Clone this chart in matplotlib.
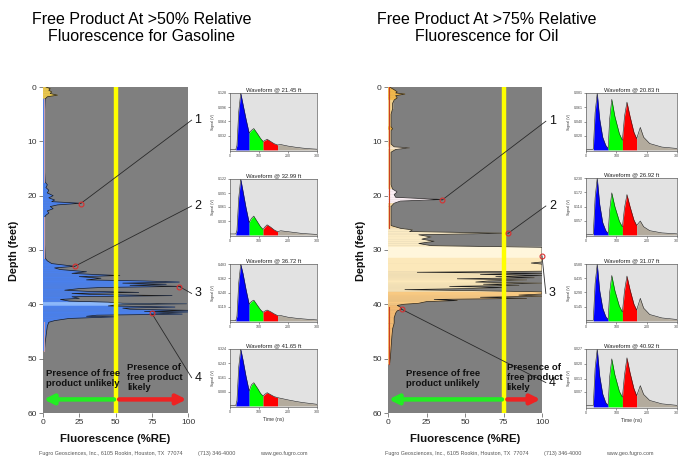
import numpy as np
import matplotlib
matplotlib.use('Agg')
import matplotlib.pyplot as plt

plt.rcParams['font.family'] = ['Liberation Sans', 'DejaVu Sans']

# ---------------- data ----------------
GAS_DEPTH = [0.0, 0.3, 0.6, 0.9, 1.2, 1.5, 1.8, 2.2, 5, 10, 15, 17.5, 18.0, 18.5, 19.0, 19.5,
             20.0, 20.4, 20.8, 21.1, 21.4, 21.7, 22.0, 22.4, 22.8, 23.2, 23.6, 24.0, 28, 31.5,
             32.0, 32.5, 33.0, 33.3, 33.6, 34.0, 34.3, 34.5, 34.7, 34.9, 35.2, 35.5, 35.7, 35.9,
             36.1, 36.3, 36.5, 36.7, 36.9, 37.1, 37.4, 37.6, 37.8, 38.0, 38.2, 38.4, 38.6, 38.9,
             39.1, 39.4, 39.6, 39.8, 39.9, 40.1, 40.3, 40.5, 40.7, 40.9, 41.1, 41.3, 41.4, 41.6,
             41.8, 42.0, 42.2, 42.3, 42.6, 43.0, 43.3, 44, 45, 46, 47, 48.5]
GAS_RE = [2, 5, 4, 6, 5, 10, 3, 1.5, 1, 1, 1, 1.5, 3, 2, 4, 3,
          7, 4, 8, 6, 26, 10, 5, 7, 3, 4, 2, 1, 1, 1.5,
          3, 6, 22, 8, 12, 30, 20, 35, 53, 25, 40, 30, 70, 94,
          55, 85, 60, 95, 40, 25, 15, 30, 66, 20, 35, 89, 20, 25,
          12, 18, 45, 55, 99, 50, 45, 91, 55, 60, 100, 70, 100, 76,
          96, 37, 30, 50, 18, 8, 4, 3, 2.5, 2, 1.5, 1]
GAS_BANDS = [(0.0, 2.2, '#e9c64c'), (2.2, 39.6, '#4a80ec'), (39.6, 40.3, '#8dbbff'),
             (40.3, 48.5, '#4a80ec')]

OIL_DEPTH = [0.0, 0.5, 0.9, 1.1, 1.3, 1.6, 2.0, 2.4, 3.0, 4.0, 5.0, 7.3, 7.7, 8.0, 10.5, 11.0,
             11.2, 11.5, 12.0, 18.0, 18.8, 19.3, 19.8, 20.3, 20.7, 21.0, 21.4, 22.0, 25.5, 26.0,
             26.3, 26.6, 26.9, 27.2, 27.6, 28.0, 28.4, 28.8, 29.2, 29.5, 30.5, 31.5, 32.2, 32.4,
             32.6, 33.5, 33.9, 34.1, 34.3, 34.5, 34.7, 34.9, 35.1, 35.3, 35.5, 35.7, 35.9, 36.1,
             36.3, 36.5, 36.7, 36.9, 37.1, 37.3, 37.5, 37.7, 38.1, 38.3, 38.5, 38.7, 38.9, 39.1,
             39.3, 39.5, 39.8, 40.0, 40.2, 40.5, 40.9, 41.2, 41.6, 42.5, 43.5, 44.5, 46.0, 48.0,
             50.0, 51.0]
OIL_RE = [1, 4, 6, 5, 11, 5, 6, 4, 3, 3, 2, 2, 3, 2, 2, 4,
          14, 5, 2, 2, 3, 6, 4, 5, 35, 8, 4, 2, 2, 8,
          16, 14, 78, 20, 28, 22, 30, 20, 28, 100, 100, 100, 100, 93,
          100, 100, 100, 19, 100, 60, 100, 70, 95, 45, 90, 65, 57, 100,
          62, 85, 40, 75, 50, 11, 60, 100, 100, 85, 100, 60, 90, 30,
          45, 25, 20, 10, 6, 8, 9, 6, 5, 4, 4, 3, 2.5, 2,
          1.5, 1]
OIL_BANDS = [(0.0, 2.4, '#f1b84a'), (2.4, 7.3, '#f3d28c'), (7.3, 8.0, '#efb444'),
             (8.0, 11.0, '#f3d8a4'), (11.0, 11.5, '#fbe8cc'), (11.5, 18.8, '#f3d8a4'),
             (18.8, 21.4, '#fbeef3'), (21.4, 26.0, '#f3d8a4'), (26.0, 29.5, '#fbebc4'),
             (29.5, 31.5, '#fff6dc'), (31.5, 37.7, '#fce8ba'), (37.7, 40.2, '#f8c982'),
             (40.2, 51.0, '#f3bb72')]

GAS_THRESHOLD = 50
OIL_THRESHOLD = 75

# callouts: (depth of point, %RE of point, depth at label, label)
GAS_CALLOUTS = [(21.45, 26, 6.1, '1'), (32.99, 22, 21.9, '2'),
                (36.72, 94, 38.0, '3'), (41.65, 75, 53.5, '4')]
OIL_CALLOUTS = [(20.83, 35, 6.3, '1'), (26.92, 78, 21.9, '2'),
                (31.07, 100, 38.0, '3'), (40.92, 9, 54.4, '4')]

# waveforms
T_GAS = [0, 20, 24, 30, 37, 45, 55, 66, 74, 82, 95, 105, 114, 120, 128, 140, 152, 164,
         175, 200, 225, 250, 275, 300]
WAVE_GAS = [
    [0.001, 0.001, 0.01, 0.085, 0.128, 0.102, 0.070, 0.038, 0.044, 0.048, 0.036, 0.026, 0.019,
     0.021, 0.024, 0.019, 0.014, 0.011, 0.012, 0.0085, 0.006, 0.004, 0.0025, 0.0015],
    [0.002, 0.002, 0.01, 0.08, 0.122, 0.095, 0.060, 0.027, 0.036, 0.041, 0.028, 0.018, 0.012,
     0.017, 0.022, 0.017, 0.011, 0.007, 0.009, 0.007, 0.005, 0.003, 0.002, 0.001],
    [0.002, 0.003, 0.04, 0.32, 0.483, 0.40, 0.27, 0.142, 0.165, 0.176, 0.13, 0.095, 0.073,
     0.083, 0.092, 0.078, 0.06, 0.045, 0.045, 0.031, 0.023, 0.017, 0.012, 0.008],
    [0.003, 0.003, 0.03, 0.22, 0.324, 0.26, 0.17, 0.085, 0.12, 0.132, 0.10, 0.072, 0.056,
     0.066, 0.075, 0.064, 0.053, 0.047, 0.043, 0.034, 0.026, 0.019, 0.014, 0.009],
]
GAS_WAVE_DEPTHS = ['21.45', '32.99', '36.72', '41.65']
GAS_YTICKS = [[0.032, 0.064, 0.096, 0.128], [0.030, 0.061, 0.091, 0.122],
              [0.119, 0.240, 0.362, 0.483], [0.080, 0.161, 0.243, 0.324]]
GAS_SEG = [20, 66, 114, 164, 300]

T_OIL = [0, 24, 30, 37, 45, 55, 65, 73, 78, 85, 95, 110, 120, 127, 135, 145, 158, 167,
         179, 190, 210, 250, 300]
WAVE_OIL = [
    [0, 0.001, 0.053, 0.081, 0.044, 0.018, 0.0065, 0.002, 0.044, 0.072, 0.048, 0.023, 0.0135,
     0.048, 0.068, 0.048, 0.025, 0.016, 0.032, 0.018, 0.009, 0.004, 0.002],
    [0, 0.002, 0.15, 0.230, 0.124, 0.05, 0.018, 0.006, 0.10, 0.170, 0.115, 0.055, 0.032,
     0.11, 0.163, 0.115, 0.06, 0.038, 0.056, 0.033, 0.017, 0.008, 0.004],
    [0, 0.005, 0.38, 0.580, 0.31, 0.13, 0.045, 0.015, 0.29, 0.463, 0.31, 0.15, 0.09,
     0.31, 0.457, 0.32, 0.17, 0.11, 0.23, 0.13, 0.065, 0.03, 0.014],
    [0.0005, 0.0006, 0.018, 0.027, 0.0145, 0.006, 0.002, 0.0008, 0.014, 0.0224, 0.015, 0.0072,
     0.0045, 0.015, 0.0229, 0.016, 0.0085, 0.0052, 0.0099, 0.0058, 0.003, 0.0014, 0.0007],
]
OIL_WAVE_DEPTHS = ['20.83', '26.92', '31.07', '40.92']
OIL_YTICKS = [[0.020, 0.040, 0.061, 0.081], [0.057, 0.114, 0.172, 0.230],
              [0.145, 0.290, 0.435, 0.580], [0.007, 0.013, 0.020, 0.027]]
OIL_SEG = [24, 73, 120, 167, 300]

DEPTH_TICKS = [0, 10, 20, 30, 40, 50, 60]
RE_TICKS = [0, 25, 50, 75, 100]
TIME_TICKS = [0, 100, 200, 300]

FOOTER_PARTS = ["Fugro Geosciences, Inc., 6105 Rookin, Houston, TX  77074",
                "(713) 346-4000", "www.geo.fugro.com"]

# ---------------- figure ----------------
W, H = 678, 458
fig = plt.figure(figsize=(W / 100, H / 100), dpi=100)


def box(x0, y0, x1, y1):
    return [x0 / W, 1 - y1 / H, (x1 - x0) / W, (y1 - y0) / H]


def band_color(bands, d):
    for d0, d1, col in bands:
        if d0 <= d <= d1:
            return col
    return bands[-1][2]


def draw_profile(ax, depth, val, bands, thr, callouts, base_color, base_ranges):
    depth = np.asarray(depth, float)
    val = np.asarray(val, float)
    ax.set_facecolor('#7f7f7f')
    for i in range(len(depth) - 1):
        col = band_color(bands, 0.5 * (depth[i] + depth[i + 1]))
        ax.fill([0, val[i], val[i + 1], 0], [depth[i], depth[i], depth[i + 1], depth[i + 1]],
                facecolor=col, edgecolor=col, lw=0.3, zorder=2)
    ax.plot(val, depth, color='#1c1c1c', lw=0.5, zorder=3)
    for r0, r1 in base_ranges:
        ax.plot([0.8, 0.8], [r0, r1], color=base_color, lw=0.8, zorder=3)
    ax.axvline(thr, color='#ffff00', lw=3.2, zorder=4)
    ax.set_xlim(0, 100)
    ax.set_ylim(60, 0)
    ax.set_xticks(RE_TICKS)
    ax.set_yticks(DEPTH_TICKS)
    ax.tick_params(labelsize=6, colors='#555555', labelcolor='#333333', length=3, width=0.5, pad=1.5)
    for s in ax.spines.values():
        s.set_visible(False)
    for dp, xp, dl, lab in callouts:
        ax.plot([xp, 102.5], [dp, dl], color='#2a2a2a', lw=0.6, clip_on=False, zorder=5)
        ax.plot([xp], [dp], 'o', mfc='none', mec='#d83030', ms=3.5, mew=0.8, zorder=6, clip_on=False)
        ax.text(104.5, dl, lab, fontsize=9, va='center', ha='left', color='#111111')
    ax.annotate('', xy=(0.5, 57.5), xytext=(thr - 1, 57.5),
                arrowprops=dict(arrowstyle='-|>', color='#22ee22', lw=3.2, mutation_scale=14,
                                shrinkA=0, shrinkB=0), zorder=6)
    ax.annotate('', xy=(99, 57.5), xytext=(thr + 2.5, 57.5),
                arrowprops=dict(arrowstyle='-|>', color='#ee2222', lw=3.2, mutation_scale=14,
                                shrinkA=0, shrinkB=0), zorder=6)


def draw_wave(ax, t, v, seg, yt, title, xlabel):
    t = np.asarray(t, float)
    v = np.asarray(v, float)
    ax.set_facecolor('#e2e2e2')
    cols = ['#0000ff', '#00ff00', '#ff0000', '#b3ab9d']
    for a, b, c in zip(seg[:-1], seg[1:], cols):
        m = (t >= a) & (t <= b)
        ax.fill_between(t[m], 0, v[m], color=c, lw=0)
    ax.plot(t, v, color='#202020', lw=0.4)
    ax.set_xlim(0, 300)
    ax.set_ylim(-0.02 * yt[-1], yt[-1])
    ax.set_xticks(TIME_TICKS)
    ax.set_yticks(yt)
    ax.set_yticklabels(['%.3f' % y for y in yt])
    ax.tick_params(labelsize=2.6, length=1.5, width=0.4, pad=1, colors='#444444')
    for s in ax.spines.values():
        s.set_color('#606060')
        s.set_linewidth(0.5)
    ax.set_title(title, fontsize=4.2, pad=1.5, color='#222222')
    ax.set_ylabel('Signal (V)', fontsize=2.6, labelpad=2, color='#333333')
    if xlabel:
        ax.set_xlabel('Time (ns)', fontsize=3.6, labelpad=1.5, color='#333333')


# left panel
axL = fig.add_axes(box(43, 87, 188, 413))
draw_profile(axL, GAS_DEPTH, GAS_RE, GAS_BANDS, GAS_THRESHOLD, GAS_CALLOUTS, '#c8a0b4',
             [(2.2, 17.5), (24, 31.5), (43.3, 48.5)])
axL.text(2, 53.6, 'Presence of free\nproduct unlikely', fontsize=6.8, fontweight='bold',
         va='center', ha='left', color='#111111', linespacing=1.15, zorder=7)
axL.text(58, 53.5, 'Presence of\nfree product\nlikely', fontsize=6.8, fontweight='bold',
         va='center', ha='left', color='#111111', linespacing=1.15, zorder=7)

# right panel
axR = fig.add_axes(box(388, 87, 542, 413))
draw_profile(axR, OIL_DEPTH, OIL_RE, OIL_BANDS, OIL_THRESHOLD, OIL_CALLOUTS, '#cc4020',
             [(0, 26), (40.5, 51)])
axR.text(12, 53.7, 'Presence of free\nproduct unlikely', fontsize=6.8, fontweight='bold',
         va='center', ha='left', color='#111111', linespacing=1.15, zorder=7)
axR.text(77, 53.5, 'Presence of\nfree product\nlikely', fontsize=6.8, fontweight='bold',
         va='center', ha='left', color='#111111', linespacing=1.15, zorder=7)

# waveform insets
rows_L = [(93, 151), (179, 236), (264, 322), (349, 407)]
rows_R = [(93, 151), (178, 236), (264, 322), (349, 408)]
for i in range(4):
    a = fig.add_axes(box(230, rows_L[i][0], 317, rows_L[i][1]))
    draw_wave(a, T_GAS, WAVE_GAS[i], GAS_SEG, GAS_YTICKS[i],
              'Waveform @ %s ft' % GAS_WAVE_DEPTHS[i], i == 3)
    b = fig.add_axes(box(586, rows_R[i][0], 677, rows_R[i][1]))
    draw_wave(b, T_OIL, WAVE_OIL[i], OIL_SEG, OIL_YTICKS[i],
              'Waveform @ %s ft' % OIL_WAVE_DEPTHS[i], i == 3)

# titles and labels
fig.text(142 / W, 1 - 28 / H, 'Free Product At >50% Relative\nFluorescence for Gasoline',
         fontsize=11.5, ha='center', va='center', linespacing=1.2)
fig.text(487 / W, 1 - 28 / H, 'Free Product At >75% Relative\nFluorescence for Oil',
         fontsize=11.5, ha='center', va='center', linespacing=1.2)
for xc in (14, 361):
    fig.text(xc / W, 1 - 251 / H, 'Depth (feet)', rotation=90, fontsize=7.8, fontweight='bold',
             ha='center', va='center', color='#111111')
for xc in (115.5, 465):
    fig.text(xc / W, 1 - 439 / H, 'Fluorescence (%RE)', fontsize=8.2, fontweight='bold',
             ha='center', va='center', color='#111111')
for x0 in (39, 385):
    for dx, part in zip((0, 159, 221), FOOTER_PARTS):
        fig.text((x0 + dx) / W, 1 - 453 / H, part, fontsize=3.9, ha='left', va='center',
                 color='#555555')

fig.savefig('out.png', dpi=100, facecolor='white')
